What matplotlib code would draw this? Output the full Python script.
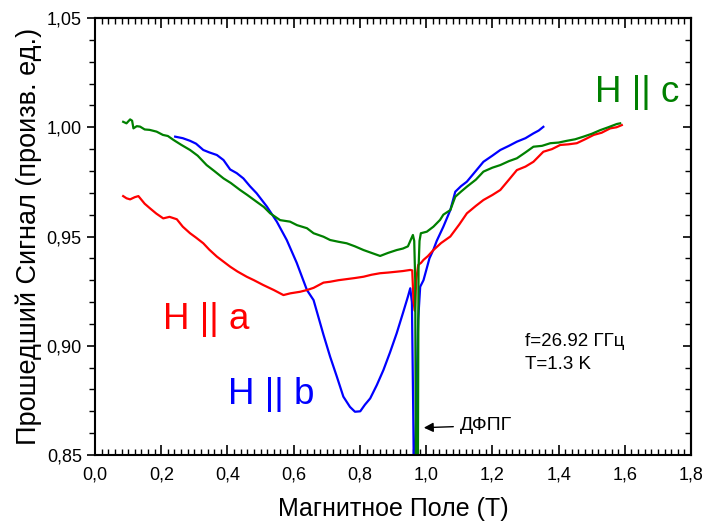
import matplotlib
matplotlib.use('Agg')
from matplotlib import pyplot as plt
from matplotlib.ticker import MultipleLocator, FuncFormatter

plt.rcParams['font.family'] = ['Liberation Sans', 'DejaVu Sans']

# H || c (green)
gx = [0.085, 0.095, 0.106, 0.112, 0.116, 0.126, 0.136, 0.150, 0.165, 0.186, 0.205, 0.220, 0.237, 0.260,
      0.287, 0.310, 0.337, 0.360, 0.388, 0.410, 0.438, 0.460, 0.488, 0.510, 0.529, 0.559, 0.589, 0.610,
      0.640, 0.660, 0.690, 0.710, 0.735, 0.760, 0.785, 0.811, 0.835, 0.861, 0.885, 0.911, 0.930, 0.945,
      0.955, 0.960, 0.964, 0.967, 0.969, 0.975, 0.977, 0.980, 0.984, 1.002, 1.022, 1.042, 1.052, 1.073,
      1.088, 1.105, 1.123, 1.150, 1.173, 1.200, 1.224, 1.250, 1.274, 1.300, 1.324, 1.350, 1.375, 1.400,
      1.425, 1.450, 1.475, 1.500, 1.526, 1.550, 1.576, 1.586]
gy = [1.0025, 1.0018, 1.0036, 1.0030, 0.9995, 1.0005, 1.0003, 0.9990, 0.9988, 0.9980, 0.9965, 0.9960,
      0.9942, 0.9920, 0.9896, 0.9870, 0.9827, 0.9800, 0.9766, 0.9745, 0.9713, 0.9690, 0.9659, 0.9635,
      0.9606, 0.9575, 0.9568, 0.9552, 0.9538, 0.9515, 0.9499, 0.9484, 0.9476, 0.9469, 0.9455, 0.9438,
      0.9425, 0.9411, 0.9425, 0.9438, 0.9445, 0.9455, 0.9490, 0.9507, 0.9480, 0.9300, 0.8400, 0.8400,
      0.9350, 0.9480, 0.9515, 0.9522, 0.9545, 0.9576, 0.9600, 0.9621, 0.9682, 0.9705, 0.9728, 0.9760,
      0.9797, 0.9815, 0.9827, 0.9845, 0.9858, 0.9885, 0.9911, 0.9915, 0.9927, 0.9930, 0.9938, 0.9945,
      0.9957, 0.9970, 0.9987, 1.0000, 1.0015, 1.0018]

# H || a (red)
rx = [0.085, 0.095, 0.106, 0.120, 0.131, 0.150, 0.166, 0.185, 0.206, 0.225, 0.247, 0.265, 0.287, 0.305,
      0.327, 0.345, 0.368, 0.388, 0.408, 0.430, 0.458, 0.480, 0.508, 0.540, 0.569, 0.590, 0.619, 0.640,
      0.660, 0.690, 0.710, 0.735, 0.760, 0.785, 0.811, 0.835, 0.861, 0.885, 0.911, 0.930, 0.952, 0.958,
      0.962, 0.966, 0.970, 0.976, 0.985, 0.992, 1.005, 1.022, 1.045, 1.073, 1.100, 1.123, 1.150, 1.173,
      1.200, 1.224, 1.250, 1.274, 1.300, 1.324, 1.354, 1.380, 1.405, 1.430, 1.455, 1.480, 1.506, 1.530,
      1.556, 1.575, 1.591]
ry = [0.9685, 0.9675, 0.9670, 0.9680, 0.9685, 0.9650, 0.9629, 0.9605, 0.9583, 0.9590, 0.9579, 0.9545,
      0.9515, 0.9495, 0.9469, 0.9440, 0.9408, 0.9385, 0.9362, 0.9340, 0.9316, 0.9300, 0.9278, 0.9255,
      0.9232, 0.9240, 0.9247, 0.9255, 0.9265, 0.9289, 0.9293, 0.9300, 0.9305, 0.9310, 0.9316, 0.9325,
      0.9332, 0.9335, 0.9339, 0.9342, 0.9347, 0.9345, 0.9200, 0.9160, 0.9300, 0.9370, 0.9380, 0.9393,
      0.9410, 0.9438, 0.9470, 0.9500, 0.9555, 0.9606, 0.9640, 0.9667, 0.9690, 0.9713, 0.9760, 0.9804,
      0.9820, 0.9842, 0.9888, 0.9900, 0.9919, 0.9922, 0.9927, 0.9945, 0.9965, 0.9975, 0.9995, 1.0000,
      1.0010]

# H || b (blue)
bx = [0.242, 0.265, 0.287, 0.305, 0.327, 0.345, 0.368, 0.388, 0.408, 0.428, 0.448, 0.468, 0.488, 0.519,
      0.549, 0.579, 0.609, 0.640, 0.660, 0.690, 0.710, 0.730, 0.750, 0.770, 0.785, 0.801, 0.815, 0.831,
      0.851, 0.871, 0.891, 0.911, 0.930, 0.945, 0.952, 0.957, 0.961, 0.963, 0.967, 0.971, 0.976, 0.982,
      0.992, 1.010, 1.022, 1.032, 1.052, 1.073, 1.088, 1.105, 1.123, 1.150, 1.173, 1.200, 1.224, 1.250,
      1.274, 1.300, 1.324, 1.340, 1.354]
by = [0.9957, 0.9950, 0.9938, 0.9925, 0.9896, 0.9885, 0.9873, 0.9850, 0.9807, 0.9790, 0.9766, 0.9730,
      0.9698, 0.9637, 0.9568, 0.9484, 0.9380, 0.9255, 0.9209, 0.9050, 0.8950, 0.8860, 0.8767, 0.8720,
      0.8698, 0.8700, 0.8730, 0.8759, 0.8820, 0.8889, 0.8970, 0.9057, 0.9150, 0.9225, 0.9263, 0.9200,
      0.8700, 0.8400, 0.8400, 0.8800, 0.9120, 0.9270, 0.9300, 0.9400, 0.9440, 0.9480, 0.9545, 0.9621,
      0.9705, 0.9730, 0.9751, 0.9800, 0.9842, 0.9870, 0.9896, 0.9915, 0.9934, 0.9950, 0.9972, 0.9985,
      1.0002]

fig = plt.figure(figsize=(7.06, 5.30), dpi=100)
ax = fig.add_axes([0.1346, 0.1415, 0.8442, 0.8245])

ax.plot(bx, by, color='#0000ff', lw=1.6)
ax.plot(rx, ry, color='#ff0000', lw=1.6)
ax.plot(gx, gy, color='#008000', lw=1.6)

ax.set_xlim(0, 1.8)
ax.set_ylim(0.85, 1.05)
comma = FuncFormatter(lambda v, p: ('%.1f' % v).replace('.', ','))
comma2 = FuncFormatter(lambda v, p: ('%.2f' % v).replace('.', ','))
ax.xaxis.set_major_locator(MultipleLocator(0.2))
ax.xaxis.set_minor_locator(MultipleLocator(0.02))
ax.yaxis.set_major_locator(MultipleLocator(0.05))
ax.yaxis.set_minor_locator(MultipleLocator(0.01))
ax.xaxis.set_major_formatter(comma)
ax.yaxis.set_major_formatter(comma2)
ax.tick_params(axis='x', which='major', direction='in', length=7, width=1.2, labelsize=13, pad=8)
ax.tick_params(axis='x', which='minor', direction='in', length=4, width=1)
ax.tick_params(axis='y', which='major', direction='out', length=6, width=1.2, labelsize=13)
ax.tick_params(axis='y', which='minor', direction='out', length=4, width=1)
for s in ax.spines.values():
    s.set_linewidth(1.5)

# верх и правая ось - засечки внутрь
top = ax.secondary_xaxis('top')
top.xaxis.set_major_locator(MultipleLocator(0.2))
top.xaxis.set_minor_locator(MultipleLocator(0.02))
top.tick_params(which='major', direction='in', length=7, width=1.2, labeltop=False)
top.tick_params(which='minor', direction='in', length=4, width=1)
top.spines['top'].set_linewidth(1.5)
right = ax.secondary_yaxis('right')
right.yaxis.set_major_locator(MultipleLocator(0.05))
right.yaxis.set_minor_locator(MultipleLocator(0.01))
right.tick_params(which='major', direction='in', length=6, width=1.2, labelright=False)
right.tick_params(which='minor', direction='in', length=4, width=1)
right.spines['right'].set_linewidth(1.5)

ax.set_xlabel('Магнитное Поле (T)', fontsize=18, labelpad=10)
ax.set_ylabel('Прошедший Сигнал (произв. ед.)', fontsize=19.5, labelpad=3)

ax.text(1.51, 1.0157, 'H || c', color='#008000', fontsize=26.5, va='center')
ax.text(0.205, 0.912, 'H || a', color='#ff0000', fontsize=26.5, va='center')
ax.text(0.402, 0.8775, 'H || b', color='#0000ff', fontsize=26.5, va='center')
ax.text(1.299, 0.902, 'f=26.92 ГГц', fontsize=13.5, va='center')
ax.text(1.299, 0.8912, 'T=1.3 K', fontsize=13.5, va='center')
ax.annotate('ДФПГ', xy=(0.993, 0.8625), xytext=(1.103, 0.8635), fontsize=14, va='center',
            arrowprops=dict(arrowstyle='-|>', color='black', lw=1, shrinkA=3, shrinkB=0))

plt.savefig('out.png', dpi=100)
